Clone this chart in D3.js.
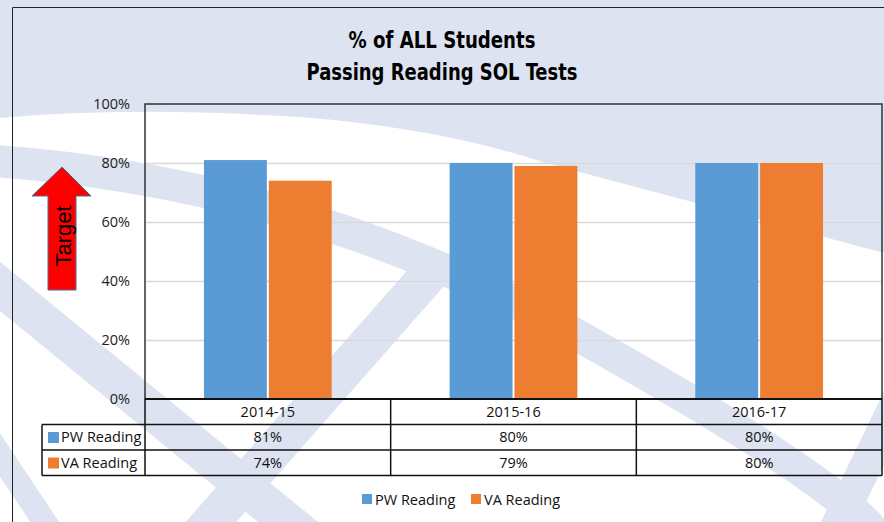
<!DOCTYPE html>
<html>
<head>
<meta charset="utf-8">
<script src="https://cdn.jsdelivr.net/npm/d3@7"></script>
<style>
  body { margin: 0; background: #fff; }
  text { font-family: "Open Sans", sans-serif; }
</style>
</head>
<body>
<div id="viz"></div>
<script>
// data
const years = ['2014-15', '2015-16', '2016-17'];
const seriesNames = ['PW Reading', 'VA Reading'];
const pwReading = [81, 80, 80];
const vaReading = [74, 79, 80];
const yTicks = [0, 20, 40, 60, 80, 100];
const titleLines = ['% of ALL Students', 'Passing Reading SOL Tests'];

const colors = ['#5b9bd5', '#ed7d31'];
const lavender = '#dde3f1';
const fs = '14.5px';

const W = 884, H = 522;
const plot = { left: 145, right: 882, top: 104, bottom: 399 };
const rowH = 25.5;

const svg = d3.select('#viz').append('svg')
  .attr('width', W)
  .attr('height', H);

// BACKGROUND watermark (decoration only)
svg.append('rect').attr('width', W).attr('height', H).attr('fill', '#fff');
svg.append('path')
  .attr('d', 'M0,0 H884 V253 L542,162 Q440,128 300,117 Q130,106 0,118 Z')
  .attr('fill', lavender);
const bands = [
  { d: 'M-20,160 Q300,180 575,334 T880,540', w: 32 },
  { d: 'M-20,270 L310,540', w: 38 },
  { d: 'M440,262 L195,540', w: 38 },
  { d: 'M-10,440 L50,530', w: 24 },
  { d: 'M900,395 L830,540', w: 32 }
];
svg.selectAll('path.band').data(bands).join('path')
  .attr('class', 'band')
  .attr('d', d => d.d)
  .attr('fill', 'none')
  .attr('stroke', lavender)
  .attr('stroke-width', d => d.w);

// frame
svg.append('path')
  .attr('d', 'M12.5,' + H + ' V7.5 H' + W)
  .attr('fill', 'none')
  .attr('stroke', '#222')
  .attr('stroke-width', 1);

// TITLE
svg.selectAll('text.title').data(titleLines).join('text')
  .attr('class', 'title')
  .attr('x', 442)
  .attr('y', (d, i) => 48 + i * 32)
  .attr('text-anchor', 'middle')
  .attr('font-size', '23px')
  .attr('font-weight', 'bold')
  .attr('textLength', (d, i) => i === 0 ? 187 : 271)
  .attr('lengthAdjust', 'spacingAndGlyphs')
  .style('font-family', '"Liberation Sans Narrow", "DejaVu Sans Condensed", Roboto, sans-serif')
  .text(d => d);

// SCALES
const x0 = d3.scaleBand().domain(years).range([plot.left, plot.right]);
const x1 = d3.scaleBand().domain(seriesNames)
  .range([x0.bandwidth() * 0.24, x0.bandwidth() * 0.76])
  .paddingInner(0.03);
const y = d3.scaleLinear().domain([0, 100]).range([plot.bottom, plot.top]);

// gridlines
svg.append('g')
  .selectAll('line').data(yTicks.filter(t => t > 0 && t < 100)).join('line')
  .attr('x1', plot.left).attr('x2', plot.right)
  .attr('y1', d => y(d) + 0.5).attr('y2', d => y(d) + 0.5)
  .attr('stroke', '#d9d9d9')
  .attr('stroke-width', 1.5);

// y axis labels
const yAxis = d3.axisLeft(y).tickValues(yTicks).tickFormat(d => d + '%').tickSize(0).tickPadding(15);
const yg = svg.append('g').attr('transform', `translate(${plot.left},0)`).call(yAxis);
yg.select('.domain').remove();
yg.selectAll('text')
  .attr('font-size', fs)
  .attr('fill', '#222')
  .style('font-family', '"Open Sans", sans-serif');

// BARS
const rows = years.map((yr, i) => ({ year: yr, values: [pwReading[i], vaReading[i]] }));
const groups = svg.append('g').selectAll('g').data(rows).join('g')
  .attr('transform', d => `translate(${x0(d.year)},0)`);
groups.selectAll('rect').data(d => d.values.map((v, k) => ({ key: seriesNames[k], v, k }))).join('rect')
  .attr('x', d => x1(d.key))
  .attr('width', x1.bandwidth())
  .attr('y', d => y(d.v))
  .attr('height', d => y(0) - y(d.v))
  .attr('fill', d => colors[d.k]);

// plot border
svg.append('rect')
  .attr('x', plot.left).attr('y', plot.top)
  .attr('width', plot.right - plot.left).attr('height', plot.bottom - plot.top)
  .attr('fill', 'none')
  .attr('stroke', '#333')
  .attr('stroke-width', 1.5);

// DATA TABLE
const tbl = svg.append('g');
const tTop = plot.bottom;
const colEdges = [plot.left].concat(years.map(yr => x0(yr) + x0.bandwidth()));
const lineStyle = s => s.attr('stroke', '#111').attr('stroke-width', 1.5).attr('fill', 'none');

tbl.append('line').attr('x1', plot.left).attr('x2', plot.right)
  .attr('y1', tTop).attr('y2', tTop).call(lineStyle).attr('stroke-width', 2.2);
[1, 2, 3].forEach(r => {
  tbl.append('line').attr('x1', 42).attr('x2', plot.right)
    .attr('y1', tTop + r * rowH).attr('y2', tTop + r * rowH).call(lineStyle);
});
colEdges.forEach(cx => {
  tbl.append('line').attr('x1', cx).attr('x2', cx)
    .attr('y1', tTop).attr('y2', tTop + 3 * rowH).call(lineStyle);
});
tbl.append('line').attr('x1', 42).attr('x2', 42)
  .attr('y1', tTop + rowH).attr('y2', tTop + 3 * rowH).call(lineStyle);

// header labels
tbl.selectAll('text.cat').data(years).join('text')
  .attr('class', 'cat')
  .attr('x', d => x0(d) + x0.bandwidth() / 2)
  .attr('y', tTop + rowH / 2 + 5)
  .attr('text-anchor', 'middle')
  .attr('font-size', fs)
  .attr('fill', '#111')
  .text(d => d);

// series rows
const seriesVals = [pwReading, vaReading];
seriesNames.forEach((name, k) => {
  const ry = tTop + (k + 1) * rowH;
  tbl.append('rect')
    .attr('x', 48).attr('y', ry + 7.5)
    .attr('width', 11).attr('height', 11)
    .attr('fill', colors[k]);
  tbl.append('text')
    .attr('x', 61).attr('y', ry + rowH / 2 + 5)
    .attr('font-size', fs)
    .attr('fill', '#111')
    .text(name);
  tbl.selectAll('text.v' + k).data(seriesVals[k]).join('text')
    .attr('class', 'v' + k)
    .attr('x', (d, i) => x0(years[i]) + x0.bandwidth() / 2)
    .attr('y', ry + rowH / 2 + 5)
    .attr('text-anchor', 'middle')
    .attr('font-size', fs)
    .attr('fill', '#111')
    .text(d => d + '%');
});

// LEGEND
const legend = svg.append('g').attr('transform', 'translate(362,494)');
const legX = [0, 109];
seriesNames.forEach((name, k) => {
  legend.append('rect')
    .attr('x', legX[k]).attr('y', 0)
    .attr('width', 10).attr('height', 10)
    .attr('fill', colors[k]);
  legend.append('text')
    .attr('x', legX[k] + 13).attr('y', 10.5)
    .attr('font-size', fs)
    .attr('fill', '#111')
    .text(name);
});

// TARGET arrow
svg.append('path')
  .attr('d', 'M62,167 L91,196 L76,196 L76,290 L48,290 L48,196 L32,196 Z')
  .attr('fill', '#ff0000')
  .attr('stroke', '#41719c')
  .attr('stroke-width', 1);
svg.append('text')
  .attr('transform', 'translate(71,236) rotate(-90)')
  .attr('text-anchor', 'middle')
  .attr('font-size', '22px')
  .attr('fill', '#000')
  .style('font-family', '"Liberation Sans", Arial, sans-serif')
  .text('Target');
</script>
</body>
</html>
